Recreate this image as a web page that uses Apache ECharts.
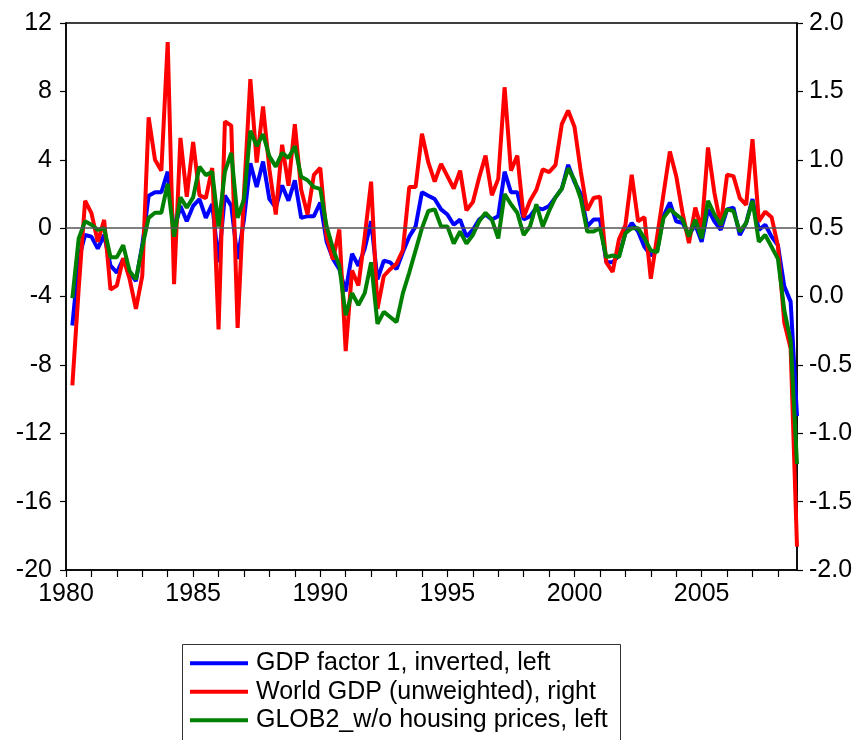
<!DOCTYPE html>
<html>
<head>
<meta charset="utf-8">
<script src="https://cdn.jsdelivr.net/npm/echarts@6/dist/echarts.min.js"></script>
<style>
html,body{margin:0;padding:0;background:#fff;}
#chart{width:864px;height:740px;}
</style>
</head>
<body>
<div id="chart"></div>
<script>
// Quarterly categories 1980Q1 .. 2008Q4
var years = [];
for (var y = 1980; y <= 2008; y++) years.push(y);
var quarters = [];
years.forEach(function (y) { for (var q = 1; q <= 4; q++) quarters.push(y + 'Q' + q); });

// GDP factor 1, inverted (left axis)
var gdpFactor = [
  null, -5.7, -1.8, -0.4,
  -0.5, -1.2, -0.4, -2.2,
  -2.6, -1.8, -2.6, -3.1,
  -1.0, 1.9, 2.1, 2.1,
  3.3, -0.2, 1.3, 0.4,
  1.3, 1.7, 0.6, 1.4,
  -2.0, 1.9, 1.3, -1.8,
  0.5, 3.8, 2.4, 3.9,
  1.7, 1.2, 2.5, 1.6,
  2.8, 0.6, 0.7, 0.7,
  1.5, -0.8, -1.8, -2.4,
  -3.7, -1.5, -2.2, -1.2,
  0.4, -3.0, -1.9, -2.0,
  -2.4, -1.4, -0.5, 0.1,
  2.1, 1.9, 1.7, 1.1,
  0.8, 0.2, 0.5, -0.5,
  -0.1, 0.5, 0.8, 0.5,
  0.7, 3.3, 2.1, 2.1,
  0.5, 0.7, 1.2, 1.1,
  1.3, 1.8, 2.3, 3.7,
  2.7, 2.0, 0.1, 0.5,
  0.5, -2.0, -2.0, -1.6,
  -0.3, 0.3, -0.2, -1.1,
  -1.6, -1.3, 0.7, 1.5,
  0.4, 0.3, -0.4, 0.2,
  -0.8, 1.1, 0.4, -0.1,
  1.1, 1.2, -0.4, 0.3,
  1.7, -0.1, 0.2, -0.5,
  -1.0, -3.4, -4.3, -11.0
];

// World GDP (unweighted) (right axis)
var worldGdp = [
  null, -0.65, 0.06, 0.70,
  0.61, 0.40, 0.56, 0.05,
  0.08, 0.28, 0.13, -0.09,
  0.15, 1.31, 1.00, 0.92,
  1.86, 0.09, 1.16, 0.73,
  1.13, 0.74, 0.72, 0.94,
  -0.24, 1.28, 1.25, -0.23,
  0.75, 1.59, 0.98, 1.39,
  0.93, 0.60, 1.11, 0.81,
  1.26, 0.78, 0.60, 0.89,
  0.94, 0.44, 0.27, 0.49,
  -0.40, 0.19, 0.08, 0.44,
  0.84, -0.09, 0.15, 0.20,
  0.24, 0.34, 0.80, 0.80,
  1.19, 0.98, 0.84, 0.97,
  0.88, 0.79, 0.92, 0.63,
  0.69, 0.87, 1.03, 0.74,
  0.86, 1.53, 0.92, 1.03,
  0.58, 0.70, 0.78, 0.93,
  0.91, 0.96, 1.26, 1.36,
  1.24, 0.91, 0.63, 0.72,
  0.73, 0.25, 0.18, 0.42,
  0.52, 0.89, 0.55, 0.58,
  0.13, 0.44, 0.75, 1.06,
  0.88, 0.61, 0.39, 0.65,
  0.49, 1.09, 0.76, 0.52,
  0.89, 0.88, 0.72, 0.67,
  1.15, 0.55, 0.62, 0.58,
  0.37, -0.19, -0.38, -1.83
];

// GLOB2_w/o housing prices (left axis)
var glob2 = [
  null, -4.1, -0.6, 0.4,
  0.2, -0.1, 0.0, -1.7,
  -1.7, -1.0, -2.5, -3.0,
  -1.1, 0.6, 0.9, 0.9,
  2.6, -0.5, 1.8, 1.2,
  1.8, 3.6, 3.1, 3.3,
  0.1, 3.3, 4.4, 0.6,
  1.7, 5.7, 4.8, 5.5,
  4.2, 3.6, 4.4, 4.1,
  4.8, 3.0, 2.8, 2.4,
  2.3, 0.1, -1.2, -2.2,
  -5.1, -3.8, -4.5, -3.8,
  -2.0, -5.6, -4.9, -5.2,
  -5.5, -3.8, -2.6, -1.3,
  0.0, 1.0, 1.1, 0.1,
  0.1, -0.9, -0.2, -0.9,
  -0.4, 0.4, 0.9, 0.5,
  -0.6, 2.0, 1.4, 0.9,
  -0.4, 0.1, 1.4, 0.1,
  1.0, 1.8, 2.3, 3.5,
  2.8, 1.7, -0.2, -0.2,
  0.0, -1.7, -1.6, -1.7,
  -0.3, 0.0, 0.0, -0.6,
  -1.3, -1.4, 0.6, 1.1,
  0.8, 0.5, -0.5, 0.5,
  -0.6, 1.6, 0.8, 0.2,
  1.1, 1.0, -0.2, 0.3,
  1.6, -0.8, -0.4, -1.1,
  -1.8, -4.8, -6.6, -13.8
];

var seriesNames = ['GDP factor 1, inverted, left', 'World GDP (unweighted), right', 'GLOB2_w/o housing prices, left'];
var seriesColors = ['#0000ff', '#ff0000', '#008000'];

var FONT = '"Liberation Sans", Arial, sans-serif';
var chart = echarts.init(document.getElementById('chart'), null, {renderer: 'canvas'});

var option = {
  animation: false,
  backgroundColor: '#ffffff',
  textStyle: {fontFamily: FONT},
  grid: {left: 66, right: 67, top: 23, bottom: 170, show: true, borderColor: '#000', borderWidth: 1.5, backgroundColor: 'transparent'},
  graphic: [{
    type: 'rect', left: 182, top: 644, silent: true, z: -1,
    shape: {width: 438, height: 120},
    style: {fill: '#fff', stroke: '#333', lineWidth: 1}
  }],
  legend: {
    orient: 'vertical',
    left: 182, top: 644,
    data: seriesNames,
    icon: 'rect',
    itemWidth: 58, itemHeight: 4,
    itemGap: 0,
    padding: [5, 9, 0, 8],
    borderWidth: 0,
    textStyle: {fontSize: 25, color: '#000', lineHeight: 28.5, fontFamily: FONT, padding: [0, 0, 0, 3]}
  },
  xAxis: {
    type: 'category',
    data: quarters,
    boundaryGap: false,
    axisLine: {onZero: false, lineStyle: {color: '#000', width: 1.5}},
    axisTick: {show: true, length: 7, interval: function (i) { return i % 4 === 0; }, lineStyle: {color: '#000', width: 1.2}},
    axisLabel: {
      interval: function (i) { return i % 20 === 0; },
      formatter: function (v) { return v.slice(0, 4); },
      fontSize: 25, color: '#000', margin: 12, fontFamily: FONT
    },
    splitLine: {show: false}
  },
  yAxis: [
    {
      type: 'value', min: -20, max: 12, interval: 4, position: 'left',
      axisLine: {show: true, onZero: false, lineStyle: {color: '#000', width: 1.5}},
      axisTick: {show: true, length: 6, lineStyle: {color: '#000', width: 1.2}},
      axisLabel: {fontSize: 25, color: '#000', margin: 14, fontFamily: FONT},
      splitLine: {show: false}
    },
    {
      type: 'value', min: -2, max: 2, interval: 0.5, position: 'right',
      axisLine: {show: true, onZero: false, lineStyle: {color: '#000', width: 1.5}},
      axisTick: {show: true, length: 6, lineStyle: {color: '#000', width: 1.2}},
      axisLabel: {fontSize: 25, color: '#000', margin: 12, fontFamily: FONT,
        formatter: function (v) { return v.toFixed(1); }},
      splitLine: {show: false}
    }
  ],
  series: [
    {
      name: seriesNames[0], type: 'line', yAxisIndex: 0, data: gdpFactor,
      showSymbol: false, symbol: 'none', color: seriesColors[0],
      lineStyle: {width: 4, color: seriesColors[0]},
      markLine: {
        silent: true, symbol: 'none', label: {show: false},
        lineStyle: {color: '#555', width: 1.5, type: 'solid'},
        data: [{yAxis: 0}]
      }
    },
    {
      name: seriesNames[1], type: 'line', yAxisIndex: 1, data: worldGdp,
      showSymbol: false, symbol: 'none', color: seriesColors[1],
      lineStyle: {width: 4, color: seriesColors[1]}
    },
    {
      name: seriesNames[2], type: 'line', yAxisIndex: 0, data: glob2,
      showSymbol: false, symbol: 'none', color: seriesColors[2],
      lineStyle: {width: 4, color: seriesColors[2]}
    }
  ]
};
chart.setOption(option);
</script>
</body>
</html>
